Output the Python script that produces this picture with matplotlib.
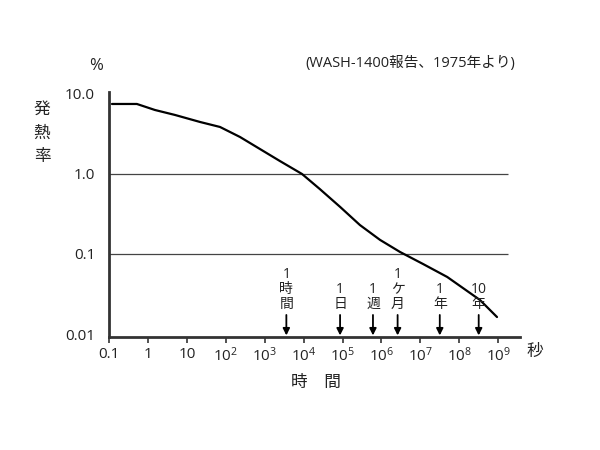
import matplotlib
matplotlib.use("Agg")
import matplotlib.pyplot as plt

plt.rcParams['font.family'] = ['Open Sans', 'Noto Sans CJK JP', 'DejaVu Sans']
plt.rcParams['mathtext.fontset'] = 'custom'
plt.rcParams['mathtext.rm'] = 'Open Sans'

# ---------------------------------------------------------------------
# Data (time in seconds, decay heat in %)
# ---------------------------------------------------------------------
time_s = [0.119, 0.52, 1.51, 4.94, 21.7, 71, 232, 757, 2470, 9100,
          2.6e4, 8.7e4, 2.8e5, 9.2e5, 3.0e6, 1.17e7, 4.9e7, 3.4e8, 9.3e8]
heat_pct = [7.5, 7.5, 6.31, 5.47, 4.47, 3.87, 2.90, 2.05, 1.45, 1.0,
            0.649, 0.387, 0.230, 0.150, 0.106, 0.075, 0.0516, 0.0266, 0.0163]

# time markers (seconds) and their labels
mark_s = [3600, 86400, 604800, 2.6e6, 3.15e7, 3.15e8]
mark_labels = ["1\n時\n間", "1\n日", "1\n週", "1\nケ\n月", "1\n年", "10\n年"]

xtick_vals = [0.1, 1, 10, 1e2, 1e3, 1e4, 1e5, 1e6, 1e7, 1e8, 1e9]
xtick_labels = ["0.1", "1", "10"] + [rf"$\mathregular{{10^{{{k}}}}}$" for k in range(2, 10)]
ytick_vals = [10, 1, 0.1, 0.01]
ytick_labels = ["10.0", "1.0", "0.1", "0.01"]
grid_vals = [1.0, 0.1]

# ---------------------------------------------------------------------
# Figure
# ---------------------------------------------------------------------
fig = plt.figure(figsize=(6, 4.5), dpi=100)
ax = fig.add_axes([0.1817, 0.2511, 0.685, 0.5445])

ax.set_xscale("log")
ax.set_yscale("log")
ax.set_xlim(0.1, 10 ** 9.56)
ax.set_ylim(10 ** -2.0375, 10 ** 1.025)

ax.hlines(grid_vals, 0.1, 10 ** 9.25, colors="#444444", linewidth=0.9)
ax.plot(time_s, heat_pct, color="black", linewidth=1.6,
        solid_capstyle="round", solid_joinstyle="round")

for sp in ["top", "right"]:
    ax.spines[sp].set_visible(False)
for sp in ["left", "bottom"]:
    ax.spines[sp].set_linewidth(2.0)
    ax.spines[sp].set_color("#333333")

ax.set_xticks(xtick_vals)
ax.set_xticklabels(xtick_labels)
ax.xaxis.set_minor_locator(matplotlib.ticker.NullLocator())
ax.yaxis.set_minor_locator(matplotlib.ticker.NullLocator())
ax.set_yticks(ytick_vals)
ax.set_yticklabels(ytick_labels)
ax.tick_params(axis="x", length=4, width=1.2, color="#333333", labelsize=11,
               pad=3, labelcolor="#222222")
ax.tick_params(axis="y", length=0, labelsize=11, pad=10, labelcolor="#222222")

# arrows with time labels
for xs, lab in zip(mark_s, mark_labels):
    ax.annotate("", xy=(xs, 0.0096), xytext=(xs, 0.0173),
                arrowprops=dict(arrowstyle="-|>", color="black", lw=1.3,
                                mutation_scale=10, shrinkA=0, shrinkB=0))
    ax.text(xs, 0.019, lab, ha="center", va="bottom", fontsize=10,
            linespacing=1.0, color="#222222")

# surrounding text
fig.text(96 / 600, 1 - 66 / 450, "%", ha="center", va="center", fontsize=12,
         color="#222222")
for i, ch in enumerate("発熱率"):
    fig.text(42 / 600, 1 - (110 + 23.5 * i) / 450, ch, ha="center", va="center",
             fontsize=12, color="#222222")
fig.text(410 / 600, 1 - 63 / 450, "(WASH-1400報告、1975年より)", ha="center",
         va="center", fontsize=10.5, color="#222222")
fig.text(535 / 600, 1 - 352 / 450, "秒", ha="center", va="center", fontsize=12,
         color="#222222")
fig.text(316 / 600, 1 - 383 / 450, "時　間", ha="center", va="center",
         fontsize=12, color="#222222")

fig.savefig("out.png", dpi=100)
